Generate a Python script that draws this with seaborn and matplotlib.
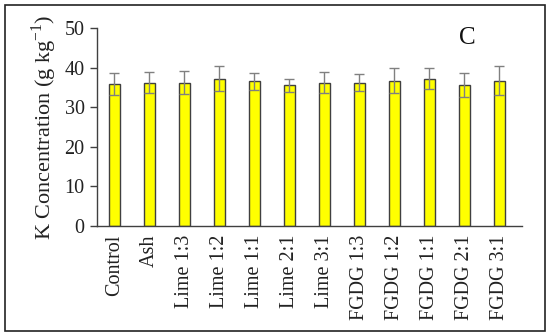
import matplotlib
matplotlib.use("Agg")
import matplotlib.pyplot as plt
import seaborn as sns
import numpy as np
import pandas as pd
from matplotlib.patches import Rectangle

categories = ["Control", "Ash", "Lime 1:3", "Lime 1:2", "Lime 1:1", "Lime 2:1", "Lime 3:1",
              "FGDG 1:3", "FGDG 1:2", "FGDG 1:1", "FGDG 2:1", "FGDG 3:1"]
values = [35.9, 36.2, 36.2, 37.2, 36.5, 35.5, 36.2, 36.2, 36.7, 37.2, 35.7, 36.7]
errors = [2.8, 2.7, 2.9, 3.2, 2.2, 1.7, 2.7, 2.2, 3.2, 2.7, 3.0, 3.7]
yticks = [0, 10, 20, 30, 40, 50]

df = pd.DataFrame({"Treatment": categories, "K": values, "err": errors})

sns.set_style("white")
plt.rcParams["font.family"] = ["Liberation Serif", "DejaVu Serif"]

fig = plt.figure(figsize=(5.5, 3.36), dpi=100)
ax = fig.add_axes([97/550, 1 - 226/336, (522-97)/550, (226-28)/336])

sns.barplot(data=df, x="Treatment", y="K", color="#FFFF00", width=0.32,
            edgecolor="#404040", linewidth=1.0, errorbar=None, ax=ax, saturation=1)
ax.errorbar(np.arange(len(categories)), df["K"], yerr=df["err"], fmt="none",
            ecolor="#808080", elinewidth=1.0, capsize=3.5, capthick=1.0)

ax.set_ylim(0, 50)
ax.set_xlim(-0.5, len(categories) - 0.5 + 0.15)
ax.set_yticks(yticks)
ax.set_yticklabels([str(t) for t in yticks], fontsize=14.5, color="#222222")
ax.set_xticks(np.arange(len(categories)))
ax.set_xticklabels(categories, rotation=90, fontsize=14.5, color="#222222")
ax.set_xticks(np.arange(len(categories) + 1) - 0.5, minor=True)
ax.tick_params(axis="x", which="major", length=0, pad=6)
ax.tick_params(axis="x", which="minor", length=5, width=1, color="#404040", direction="out")
ax.tick_params(axis="y", length=5, width=1, color="#404040", direction="out", pad=4, left=True)
ax.set_xlabel("")
ax.set_ylabel("K Concentration (g kg$^{\\mathregular{-1}}$)", fontsize=16, color="#222222", labelpad=4)

for side in ["top", "right"]:
    ax.spines[side].set_visible(False)
for side in ["left", "bottom"]:
    ax.spines[side].set_color("#404040")
    ax.spines[side].set_linewidth(1.0)

ax.text(467/550, 1 - 38/336, "C", transform=fig.transFigure, fontsize=18,
        ha="center", va="center", color="#111111")

fig.patches.append(Rectangle((5/550, 1 - 331/336), 540/550, 326/336, transform=fig.transFigure,
                             fill=False, edgecolor="#222222", linewidth=1.2))

fig.savefig("out.png", dpi=100)
